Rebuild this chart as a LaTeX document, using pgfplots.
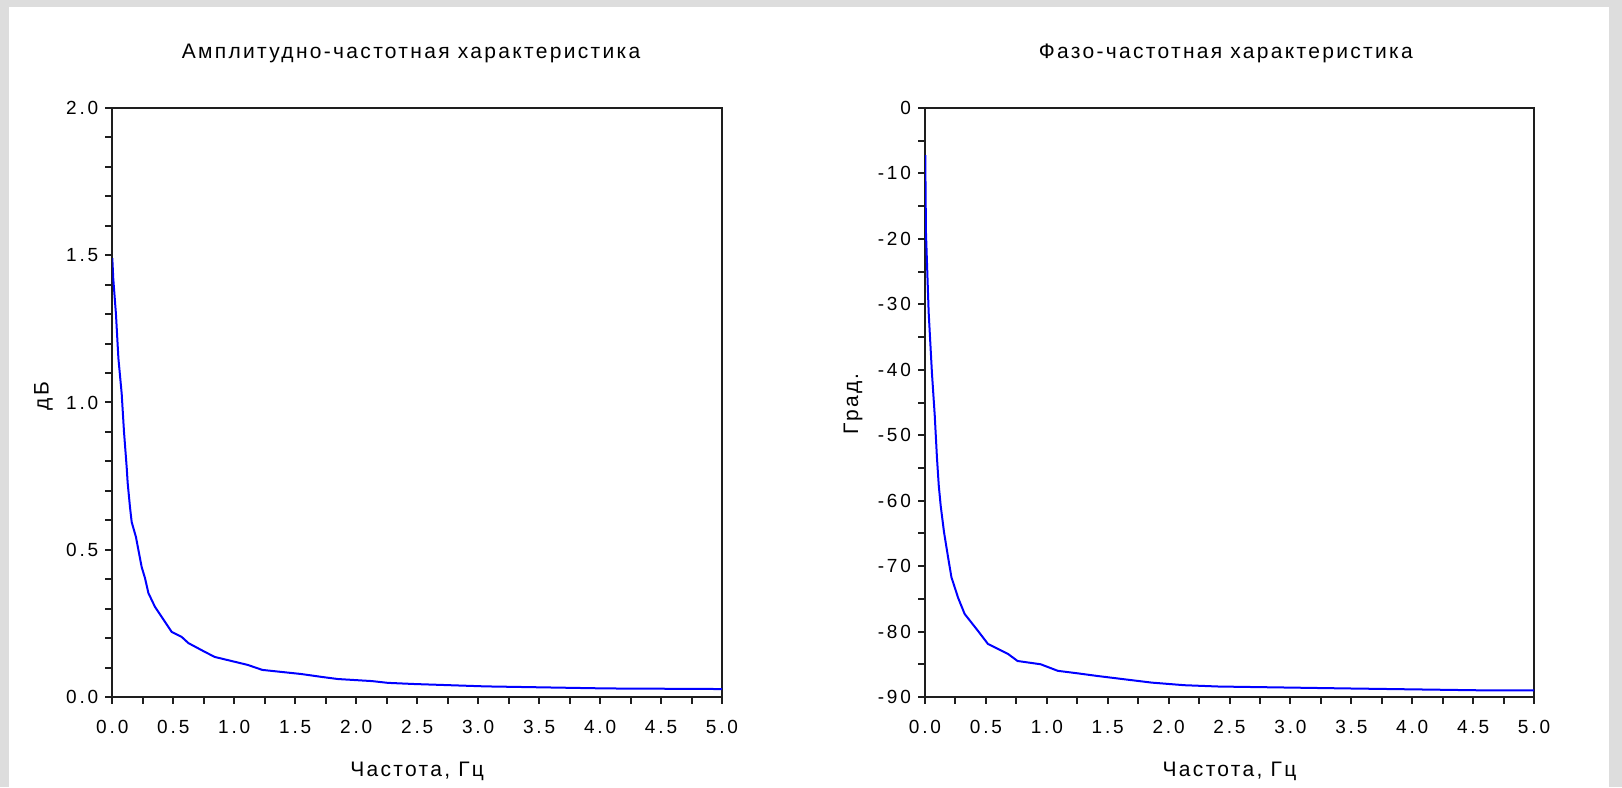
\documentclass[border=0pt]{standalone}
\usepackage{pgfplots}
\pgfplotsset{compat=1.18}
\usepackage{fontspec}
\setmainfont{Liberation Sans}[LetterSpace=15]
\newfontfamily\titlefont{Liberation Sans}[LetterSpace=11]
\definecolor{bggray}{RGB}{221,221,221}
\definecolor{lineblue}{RGB}{0,0,255}
\definecolor{axisblack}{RGB}{30,30,30}
\pgfplotsset{
  myax/.style={
    scale only axis,
    width=304.85pt, height=294.5pt,
    anchor=south west,
    axis line style={axisblack, line width=1pt},
    every tick/.style={axisblack, line width=1pt},
    tick align=outside,
    xtick pos=bottom, ytick pos=left,
    xmin=0, xmax=5,
    xtick={0,0.5,...,5},
    xticklabels={0.0,0.5,1.0,1.5,2.0,2.5,3.0,3.5,4.0,4.5,5.0},
    minor x tick num=1,
    major tick length=3.5pt, minor tick length=3.5pt,
    tick label style={font=\fontsize{9.5}{11}\selectfont},
    xticklabel style={yshift=-4.5pt},
    label style={font=\titlefont\fontsize{10.5}{12}\selectfont},
    title style={font=\titlefont\fontsize{10.5}{12}\selectfont},
    xlabel style={at={(axis description cs:0.5,-0.126)}, anchor=center},
    clip=true,
  }
}
\begin{document}
\begin{tikzpicture}
\fill[bggray] (0pt,0pt) rectangle (811pt,393.5pt);
\fill[white] (4.5pt,0pt) rectangle (804.5pt,390pt);
% Left: amplitude
\begin{axis}[myax, at={(56.15pt,45pt)},
  ymin=0, ymax=2,
  ytick={0,0.5,1,1.5,2},
  yticklabels={0.0,0.5,1.0,1.5,2.0},
  minor y tick num=4,
  title={Амплитудно-частотная характеристика},
  title style={at={(axis description cs:0.49,1.072)}, anchor=center},
  xlabel={Частота, Гц},
  ylabel={дБ},
  ylabel style={at={(axis description cs:-0.113,0.511)}, anchor=center, rotate=0},
]
\addplot[lineblue, line width=1pt] coordinates {
(0,1.49) (0.008,1.42) (0.03,1.30) (0.05,1.15) (0.077,1.03) (0.096,0.90)
(0.118,0.78) (0.126,0.727) (0.145,0.645) (0.159,0.594) (0.194,0.543)
(0.211,0.506) (0.241,0.441) (0.268,0.404) (0.296,0.353) (0.35,0.306)
(0.405,0.272) (0.487,0.221) (0.569,0.204) (0.624,0.183) (0.76,0.153)
(0.84,0.136) (0.98,0.122) (1.11,0.109) (1.23,0.092) (1.39,0.085)
(1.55,0.078) (1.72,0.068) (1.85,0.061) (2.13,0.054) (2.26,0.048)
(2.48,0.044) (3.06,0.036) (4.06,0.029) (5.0,0.027)
};
\end{axis}
% Right: phase
\begin{axis}[myax, at={(462.5pt,45pt)}, width=304.5pt,
  ymin=-90, ymax=0,
  ytick={-90,-80,...,0},
  yticklabels={-90,-80,-70,-60,-50,-40,-30,-20,-10,0},
  minor y tick num=1,
  title={Фазо-частотная характеристика},
  title style={at={(axis description cs:0.494,1.072)}, anchor=center},
  xlabel={Частота, Гц},
  ylabel={Град.},
  ylabel style={at={(axis description cs:-0.118,0.498)}, anchor=center, rotate=0},
]
\addplot[lineblue, line width=1pt] coordinates {
(0.002,-7.2) (0.008,-19.1) (0.03,-31.2) (0.057,-40.5) (0.08,-47.0)
(0.098,-53.4) (0.113,-57.7) (0.129,-60.8) (0.156,-64.8) (0.189,-68.6)
(0.217,-71.7) (0.271,-74.8) (0.325,-77.3) (0.435,-79.9) (0.517,-81.9)
(0.68,-83.4) (0.76,-84.5) (0.95,-85.0) (1.09,-86.0) (1.26,-86.4)
(1.42,-86.8) (1.64,-87.3) (1.86,-87.8) (2.13,-88.2) (2.41,-88.4)
(3.49,-88.7) (4.64,-89.0) (5.0,-89.0)
};
\end{axis}
\end{tikzpicture}
\end{document}
